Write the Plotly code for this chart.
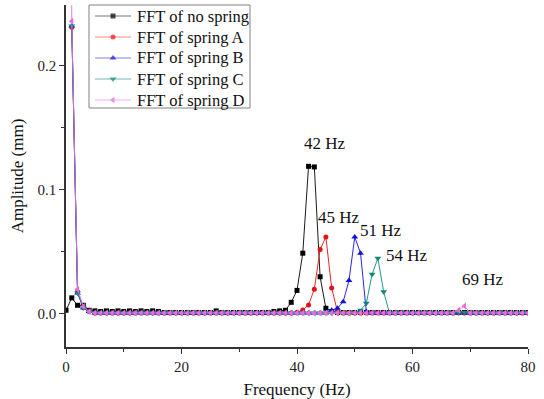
import plotly.graph_objects as go

freq = list(range(0, 81))

def series(base, overrides, start=0):
    vals = []
    for f in freq:
        if f < start:
            vals.append(None)
        else:
            vals.append(overrides.get(f, base))
    return vals

no_spring = series(0.0012, {
    0: 0.003, 1: 0.013, 2: 0.007, 3: 0.007, 4: 0.003,
    5: 0.0025, 6: 0.002, 7: 0.0025, 8: 0.002, 9: 0.0025, 10: 0.002, 11: 0.0025,
    12: 0.002, 13: 0.0025, 14: 0.002, 15: 0.0025, 16: 0.002, 26: 0.0025,
    36: 0.002, 37: 0.0025, 38: 0.003, 39: 0.0094, 40: 0.019, 41: 0.049,
    42: 0.119, 43: 0.1185, 44: 0.030, 45: 0.0046, 46: 0.002})

spring_a = series(0.0008, {
    1: 0.231, 2: 0.018, 3: 0.005, 4: 0.002,
    40: 0.0015, 41: 0.0032, 42: 0.0073, 43: 0.020, 44: 0.052, 45: 0.062,
    46: 0.021, 47: 0.002}, start=1)

spring_b = series(0.0008, {
    1: 0.232, 2: 0.017, 3: 0.005, 4: 0.002,
    46: 0.003, 47: 0.0046, 48: 0.0099, 49: 0.027, 50: 0.062, 51: 0.049,
    52: 0.002}, start=1)

spring_c = series(0.0008, {
    1: 0.232, 2: 0.017, 3: 0.005, 4: 0.002,
    51: 0.003, 52: 0.0086, 53: 0.032, 54: 0.045, 55: 0.018, 56: 0.001,
    68: 0.0012, 69: 0.0012}, start=1)

spring_d = series(0.0008, {
    0: 1.0, 1: 0.236, 2: 0.020, 3: 0.006, 4: 0.002,
    68: 0.003, 69: 0.0065})

names = ["FFT of no spring", "FFT of spring A", "FFT of spring B",
         "FFT of spring C", "FFT of spring D"]
values = [no_spring, spring_a, spring_b, spring_c, spring_d]
colors = ["#000000", "#E81010", "#1010D8", "#108878", "#E070E0"]
legend_line_colors = ["#777777", "#F08888", "#8080E0", "#70B8B0", "#F0B0F0"]
symbols = ["square", "circle", "triangle-up", "triangle-down", "triangle-left"]
sizes = [5, 5, 6, 6, 6]

peak_labels = ["42 Hz", "45 Hz", "51 Hz", "54 Hz", "69 Hz"]
peak_label_x = [44.9, 47.2, 54.5, 59.0, 72.2]
peak_label_y = [0.137, 0.0774, 0.067, 0.0468, 0.0282]

serif = "Liberation Serif, Times New Roman, serif"

# plot-area geometry in pixels (for the hand-built legend)
W, H = 544, 399
ML, MR, MT, MB = 66, 16, 5, 52
PW, PH = W - ML - MR, H - MT - MB

def fx(px):
    return (px - ML) / PW

def fy(py):
    return (H - MB - py) / PH

fig = go.Figure()
for n, v, c, s, sz in zip(names, values, colors, symbols, sizes):
    fig.add_trace(go.Scatter(
        x=freq, y=v, name=n, mode="lines+markers", showlegend=False,
        line=dict(color=c, width=0.9),
        marker=dict(color=c, symbol=s, size=sz, line=dict(width=0)),
    ))

for t, x, y in zip(peak_labels, peak_label_x, peak_label_y):
    fig.add_annotation(x=x, y=y, text=t, showarrow=False,
                       xanchor="center", yanchor="middle",
                       font=dict(family=serif, size=17, color="#111"))

# legend box
fig.add_shape(type="rect", xref="paper", yref="paper",
              x0=fx(89), x1=fx(250), y0=fy(108), y1=fy(5),
              line=dict(color="#808080", width=1), fillcolor="white", layer="below")

for i, (n, c, lc, s, sz) in enumerate(zip(names, colors, legend_line_colors, symbols, sizes)):
    py = 16 + 21 * i
    fig.add_trace(go.Scatter(
        x=[fx(95), fx(113), fx(131)], y=[fy(py)] * 3,
        xaxis="x2", yaxis="y2", mode="lines+markers", showlegend=False,
        hoverinfo="skip",
        line=dict(color=lc, width=1),
        marker=dict(color=c, symbol=s, size=[0, sz, 0], line=dict(width=0)),
    ))
    fig.add_annotation(xref="paper", yref="paper", x=fx(135), y=fy(py),
                       text=n, showarrow=False, xanchor="left", yanchor="middle",
                       font=dict(family=serif, size=16.5, color="#111"))

fig.update_layout(
    width=W, height=H,
    margin=dict(l=ML, r=MR, t=MT, b=MB, autoexpand=False),
    paper_bgcolor="white", plot_bgcolor="white",
    font=dict(family=serif, size=15, color="#222"),
    showlegend=False,
    xaxis2=dict(overlaying="x", range=[0, 1], visible=False, fixedrange=True),
    yaxis2=dict(overlaying="y", range=[0, 1], visible=False, fixedrange=True),
)
fig.update_xaxes(
    selector=dict(overlaying=None),
)
fig.update_layout(xaxis=dict(
    range=[0, 80], dtick=20, tick0=0, automargin=False,
    showline=True, linecolor="#333", linewidth=1.5,
    ticks="outside", ticklen=5, tickwidth=1.3, tickcolor="#333",
    minor=dict(dtick=10, ticks="outside", ticklen=3, tickwidth=1.3, tickcolor="#333"),
    showgrid=False, zeroline=False,
    title=dict(text="Frequency (Hz)", font=dict(family=serif, size=17, color="#111"), standoff=11),
    tickfont=dict(family=serif, size=15, color="#222"),
))
fig.update_layout(yaxis=dict(
    range=[-0.0266, 0.249], dtick=0.1, tick0=0, tickformat=".1f", automargin=False,
    showline=True, linecolor="#333", linewidth=1.5,
    ticks="outside", ticklen=5, tickwidth=1.3, tickcolor="#333",
    minor=dict(dtick=0.05, ticks="outside", ticklen=3, tickwidth=1.3, tickcolor="#333"),
    showgrid=False, zeroline=False,
    title=dict(text="Amplitude (mm)", font=dict(family=serif, size=17, color="#111"), standoff=10),
    tickfont=dict(family=serif, size=15, color="#222"),
))

fig.write_html("out.html", config={"displayModeBar": False},
               post_script="document.body.style.margin='0px';")
